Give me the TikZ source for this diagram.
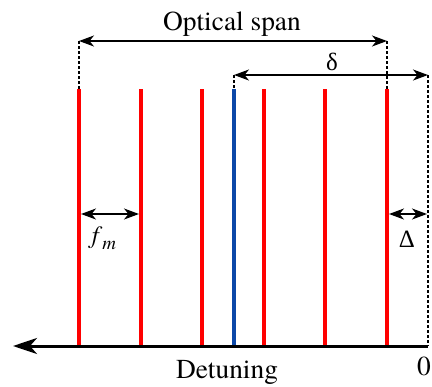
\documentclass[tikz,border=0pt]{standalone}
\usepackage{fontspec}
\setmainfont{texgyretermes}[Extension=.otf, UprightFont=*-regular, ItalicFont=*-italic]
\newfontfamily\greekfont{Liberation Serif}
\usetikzlibrary{arrows.meta}
\definecolor{combred}{RGB}{255,0,0}
\definecolor{probeblue}{RGB}{12,72,168}
\newcommand{\fm}{\textit{f}\raisebox{-0.25em}{\fontsize{19}{22}\selectfont\textit{m}}}

\begin{document}
\begin{tikzpicture}[x=1bp,y=-1bp,
  tooth/.style={combred, line width=3.5bp},
  dimarrow/.style={{Stealth[length=15bp,width=11bp,inset=4.5bp]}-{Stealth[length=15bp,width=11bp,inset=4.5bp]}, line width=1.8bp},
  guide/.style={dash pattern=on 3bp off 2bp, line width=1.3bp},
  biglbl/.style={font=\fontsize{27.5}{32}\selectfont, inner sep=0pt, anchor=base},
  smalllbl/.style={font=\fontsize{25}{30}\selectfont, inner sep=0pt, anchor=base}]
\useasboundingbox (0,0) rectangle (432,387);
% comb teeth
\coordinate (t1) at (79,89);  \coordinate (b1) at (79,346);
\coordinate (t2) at (141,89); \coordinate (b2) at (141,346);
\coordinate (t3) at (202,89); \coordinate (b3) at (202,346);
\coordinate (t4) at (264,89); \coordinate (b4) at (264,346);
\coordinate (t5) at (325,89); \coordinate (b5) at (325,346);
\coordinate (t6) at (387,89); \coordinate (b6) at (387,346);
\coordinate (tp) at (234,89); \coordinate (bp) at (234,346);
\draw[tooth] (t1) -- (b1);
\draw[tooth] (t2) -- (b2);
\draw[tooth] (t3) -- (b3);
\draw[tooth] (t4) -- (b4);
\draw[tooth] (t5) -- (b5);
\draw[tooth] (t6) -- (b6);
\draw[probeblue, line width=3.5bp] (tp) -- (bp);
% detuning axis
\coordinate (zero) at (428,346);
\coordinate (axend) at (13,346);
\draw[line width=3bp, -{Stealth[length=24bp,width=16bp,inset=7bp]}] (zero) -- (axend);
% guides
\coordinate (s1) at (79,41);
\coordinate (s2) at (387,41);
\coordinate (d1) at (234,75);
\coordinate (d2) at (428,75);
\draw[guide] (s1) -- (t1);
\draw[guide] (s2) -- (t6);
\draw[guide] (d1) -- (tp);
\draw[guide] (d2) -- (zero);
% spans
\draw[dimarrow] (s1) -- (s2);
\draw[dimarrow] (d1) -- (d2);
\coordinate (f1) at (81,214); \coordinate (f2) at (139,214);
\coordinate (g1) at (389,214); \coordinate (g2) at (427,214);
\draw[dimarrow] (f1) -- (f2);
\draw[dimarrow] (g1) -- (g2);
% labels
\node[biglbl] (span) at (232,30) {Optical span};
\node[smalllbl] (dlt) at (332,70) {\greekfont δ};
\node[smalllbl] (fmod) at (104,243) {\fm};
\node[smalllbl] (Dlt) at (407,247) {\greekfont Δ};
\node[biglbl] (orig) at (424,375) {0};
\node[biglbl] (det) at (227,378) {Detuning};
\end{tikzpicture}
\end{document}
